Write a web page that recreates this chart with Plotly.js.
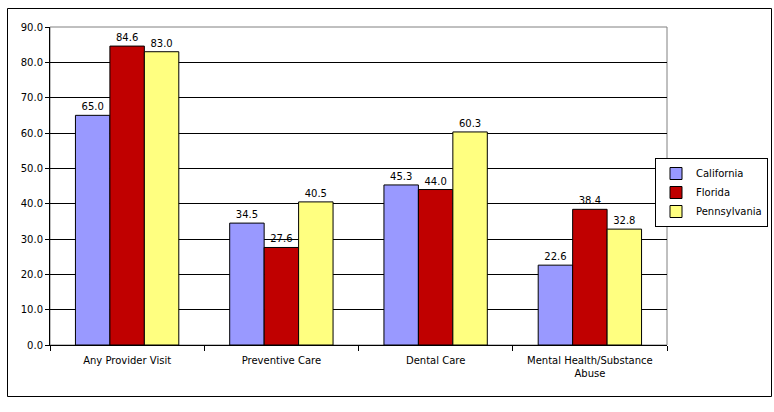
<!DOCTYPE html>
<html>
<head>
<meta charset="utf-8">
<script src="https://cdn.plot.ly/plotly-3.0.1.min.js"></script>
<style>html,body{margin:0;padding:0;background:#fff;}#chart{width:774px;height:412px;}</style>
</head>
<body>
<div id="chart"></div>
<script>
const categories = ["Any Provider Visit", "Preventive Care", "Dental Care", "Mental Health/Substance<br>Abuse"];
const seriesNames = ["California", "Florida", "Pennsylvania"];
const california = [65.0, 34.5, 45.3, 22.6];
const florida = [84.6, 27.6, 44.0, 38.4];
const pennsylvania = [83.0, 40.5, 60.3, 32.8];
const colors = ["#9999FF", "#C00000", "#FFFF80"];

const seriesValues = [california, florida, pennsylvania];
const font = {family: "DejaVu Sans, Verdana, sans-serif", size: 10, color: "#000"};

const traces = seriesValues.map((vals, i) => ({
  type: "bar",
  name: seriesNames[i],
  x: categories,
  y: vals,
  marker: {color: colors[i], line: {color: "#000", width: 1}},
  text: vals.map(v => v.toFixed(1)),
  textposition: "outside",
  textfont: font,
  cliponaxis: false,
  hoverinfo: "none"
}));

const L = 50, R = 667, T = 27, B = 345;
const W = 774, H = 412;
const pw = R - L, ph = B - T;
const px = v => (v - L) / pw;
const py = v => (B - v) / ph;

const layout = {
  width: W, height: H,
  margin: {l: L, r: W - R, t: T, b: H - B, pad: 0, autoexpand: false},
  paper_bgcolor: "#fff",
  plot_bgcolor: "#fff",
  font: font,
  barmode: "group",
  bargap: 0.33,
  bargroupgap: 0,
  showlegend: true,
  legend: {
    xref: "container", yref: "container",
    x: 768 / W, y: 1 - 158 / H, xanchor: "right", yanchor: "top",
    bgcolor: "#fff", bordercolor: "#000", borderwidth: 1,
    font: font, itemwidth: 30, tracegroupgap: 0
  },
  xaxis: {
    type: "category",
    showline: true, linecolor: "#000", linewidth: 1,
    ticks: "outside", ticklen: 5, tickcolor: "#000",
    tickson: "boundaries",
    ticklabelstandoff: 6,
    showgrid: false, zeroline: false,
    tickfont: font
  },
  yaxis: {
    range: [0, 90], dtick: 10, tickformat: ".1f",
    showline: true, linecolor: "#000", linewidth: 1,
    ticks: "outside", ticklen: 4, tickcolor: "#000",
    showgrid: true, gridcolor: "#000", gridwidth: 1,
    zeroline: false, tickfont: font
  },
  shapes: [
    {type: "rect", xref: "paper", yref: "paper", x0: 0, x1: 1, y0: 0, y1: 1,
     line: {color: "#808080", width: 1}, layer: "below"},
    {type: "rect", xref: "paper", yref: "paper",
     x0: px(7.5), x1: px(771.5), y0: py(396.5), y1: py(8.5),
     line: {color: "#000", width: 1}, fillcolor: "rgba(0,0,0,0)"}
  ]
};

Plotly.newPlot("chart", traces, layout, {displayModeBar: false, staticPlot: true});
</script>
</body>
</html>
